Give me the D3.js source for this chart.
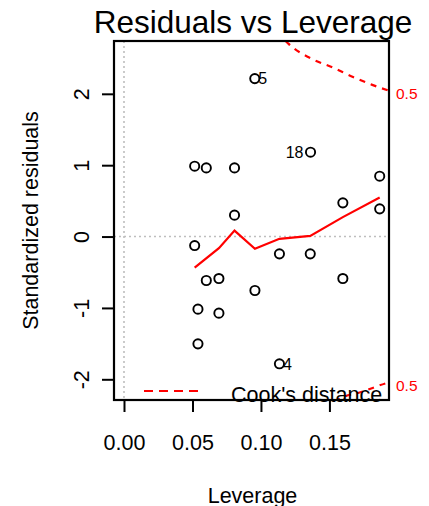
<!DOCTYPE html>
<html>
<head>
<meta charset="utf-8">
<script src="https://cdn.jsdelivr.net/npm/d3@7"></script>
<style>
  html, body { margin: 0; padding: 0; background: #ffffff; }
  svg { display: block; }
  text { font-family: "Liberation Sans", Arial, Helvetica, sans-serif; fill: #000; }
</style>
</head>
<body>
<div id="chart"></div>
<script>
// ---------------- data ----------------
const obsLabels = ["1","2","3","4","5","6","7","8","9","10","11","12","13","14","15","16","17","18","19","20"];
const leverage  = [0.0516,0.0601,0.0807,0.1135,0.0955,0.1867,0.1598,0.1867,0.0807,0.0516,
                   0.0601,0.0693,0.0956,0.1135,0.1360,0.1598,0.0540,0.1362,0.0693,0.0540];
const stdResid  = [0.986,0.962,0.962,-1.783,2.213,0.846,0.472,0.388,0.300,-0.126,
                   -0.616,-0.588,-0.756,-0.242,-0.242,-0.588,-1.017,1.182,-1.073,-1.503];
const labelledObs = ["4","5","18"];

// red smoother
const smoothLev = [0.0516,0.0693,0.0807,0.0956,0.1135,0.1360,0.1598,0.1867];
const smoothRes = [-0.434,-0.162,0.084,-0.172,-0.032,0.010,0.272,0.546];

// Cook's distance 0.5 contours
const cookUpperLev = [0.1180,0.1202,0.1377,0.1522,0.1668,0.1813,0.1935];
const cookUpperRes = [2.740,2.699,2.485,2.370,2.240,2.125,2.043];
const cookLowerLev = [0.1540,0.1570,0.1738,0.1922,0.1935];
const cookLowerRes = [-2.32,-2.28,-2.175,-2.050,-2.043];
const cookLevelLabels = ["0.5","0.5"];
const cookLevelRes = [2.043,-2.043];

// axes
const xTicks = [0.00,0.05,0.10,0.15];
const yTicks = [-2,-1,0,1,2];
const xDomain = [-0.0073,0.1935];
const yDomain = [-2.29,2.74];

const titleText = "Residuals vs Leverage";
const xTitle = "Leverage";
const yTitle = "Standardized residuals";
const legendText = "Cook's distance";

// ---------------- layout ----------------
const W = 429, H = 506;
const L = 114, R = 389, T = 41, B = 400;
const fs = 21.5;

const svg = d3.select("#chart").append("svg")
  .attr("width", W).attr("height", H);

const x = d3.scaleLinear().domain(xDomain).range([L, R]);
const y = d3.scaleLinear().domain(yDomain).range([B, T]);

svg.append("defs").append("clipPath").attr("id","plotclip")
  .append("rect").attr("x", L).attr("y", T).attr("width", R-L).attr("height", B-T);

// reference dotted lines
const plotG = svg.append("g").attr("clip-path","url(#plotclip)");
plotG.append("line")
  .attr("x1", x(0)).attr("x2", x(0)).attr("y1", T).attr("y2", B)
  .attr("stroke","#bebebe").attr("stroke-width",1.6).attr("stroke-dasharray","2,3");
plotG.append("line")
  .attr("x1", L).attr("x2", R).attr("y1", y(0)).attr("y2", y(0))
  .attr("stroke","#bebebe").attr("stroke-width",1.6).attr("stroke-dasharray","2,3");

// points
const pts = leverage.map((h,i)=>({h, r: stdResid[i], lab: obsLabels[i]}));
svg.append("g").selectAll("circle").data(pts).join("circle")
  .attr("cx", d=>x(d.h)).attr("cy", d=>y(d.r)).attr("r", 4.6)
  .attr("fill","none").attr("stroke","#000").attr("stroke-width",1.9);

// smoother
const line = d3.line().x(d=>x(d[0])).y(d=>y(d[1]));
plotG.append("path")
  .attr("d", line(smoothLev.map((h,i)=>[h, smoothRes[i]])))
  .attr("fill","none").attr("stroke","#ff0000").attr("stroke-width",2.2);

// Cook's curves
const cline = d3.line().x(d=>x(d[0])).y(d=>y(d[1])).curve(d3.curveMonotoneX);
plotG.append("path")
  .attr("d", cline(cookUpperLev.map((h,i)=>[h, cookUpperRes[i]])))
  .attr("fill","none").attr("stroke","#ff0000").attr("stroke-width",2.2).attr("stroke-dasharray","6,6");
plotG.append("path")
  .attr("d", cline(cookLowerLev.map((h,i)=>[h, cookLowerRes[i]])))
  .attr("fill","none").attr("stroke","#ff0000").attr("stroke-width",2.2).attr("stroke-dasharray","6,6");

// point labels
const hExt = d3.extent(leverage);
const hMid = (hExt[0]+hExt[1])/2;
svg.append("g").selectAll("text")
  .data(pts.filter(d=>labelledObs.includes(d.lab))).join("text")
  .attr("x", d=> d.h > hMid ? x(d.h)-7 : x(d.h)+3.5)
  .attr("y", d=> y(d.r))
  .attr("dy","0.36em")
  .attr("text-anchor", d=> d.h > hMid ? "end" : "start")
  .attr("font-size", 16)
  .text(d=>d.lab);

// box
svg.append("rect").attr("x", L).attr("y", T).attr("width", R-L).attr("height", B-T)
  .attr("fill","none").attr("stroke","#000").attr("stroke-width",2.2);

// x axis
const xAxis = d3.axisBottom(x).tickValues(xTicks).tickFormat(d=>d.toFixed(2))
  .tickSize(12).tickPadding(23);
const gx = svg.append("g").attr("transform",`translate(0,${B})`).call(xAxis);
gx.select(".domain").remove();
gx.selectAll("line").attr("stroke","#000").attr("stroke-width",2);
gx.selectAll("text").attr("font-size", fs).attr("font-family",'"Liberation Sans", Arial, sans-serif').attr("fill","#000");

// y axis
const yAxis = d3.axisLeft(y).tickValues(yTicks).tickFormat(d=>String(d)).tickSize(12).tickPadding(0);
const gy = svg.append("g").attr("transform",`translate(${L},0)`).call(yAxis);
gy.select(".domain").remove();
gy.selectAll("line").attr("stroke","#000").attr("stroke-width",2);
gy.selectAll("text")
  .attr("font-size", fs).attr("font-family",'"Liberation Sans", Arial, sans-serif').attr("fill","#000")
  .attr("x", null).attr("dy", null)
  .attr("text-anchor","middle")
  .attr("transform", "translate(-25.5,0) rotate(-90)");

// Cook's level labels at right
svg.append("g").selectAll("text").data(cookLevelRes).join("text")
  .attr("x", R+7).attr("y", d=>y(d)+3).attr("dy","0.36em")
  .attr("font-size", 15.5).attr("fill","#ff0000").style("fill","#ff0000")
  .text((d,i)=>cookLevelLabels[i]);

// legend
svg.append("line").attr("x1",144).attr("x2",204).attr("y1",391).attr("y2",391)
  .attr("stroke","#ff0000").attr("stroke-width",2.2).attr("stroke-dasharray","9,6");
svg.append("text").attr("x",231).attr("y",402).attr("font-size",fs).text(legendText);

// titles
svg.append("text").attr("x",253).attr("y",32.5).attr("text-anchor","middle")
  .attr("font-size",31.5).text(titleText);
svg.append("text").attr("x",(L+R)/2+1).attr("y",503).attr("text-anchor","middle")
  .attr("font-size",fs).text(xTitle);
svg.append("text").attr("transform",`translate(38,${(T+B)/2}) rotate(-90)`)
  .attr("text-anchor","middle").attr("font-size",fs).text(yTitle);
</script>
</body>
</html>
